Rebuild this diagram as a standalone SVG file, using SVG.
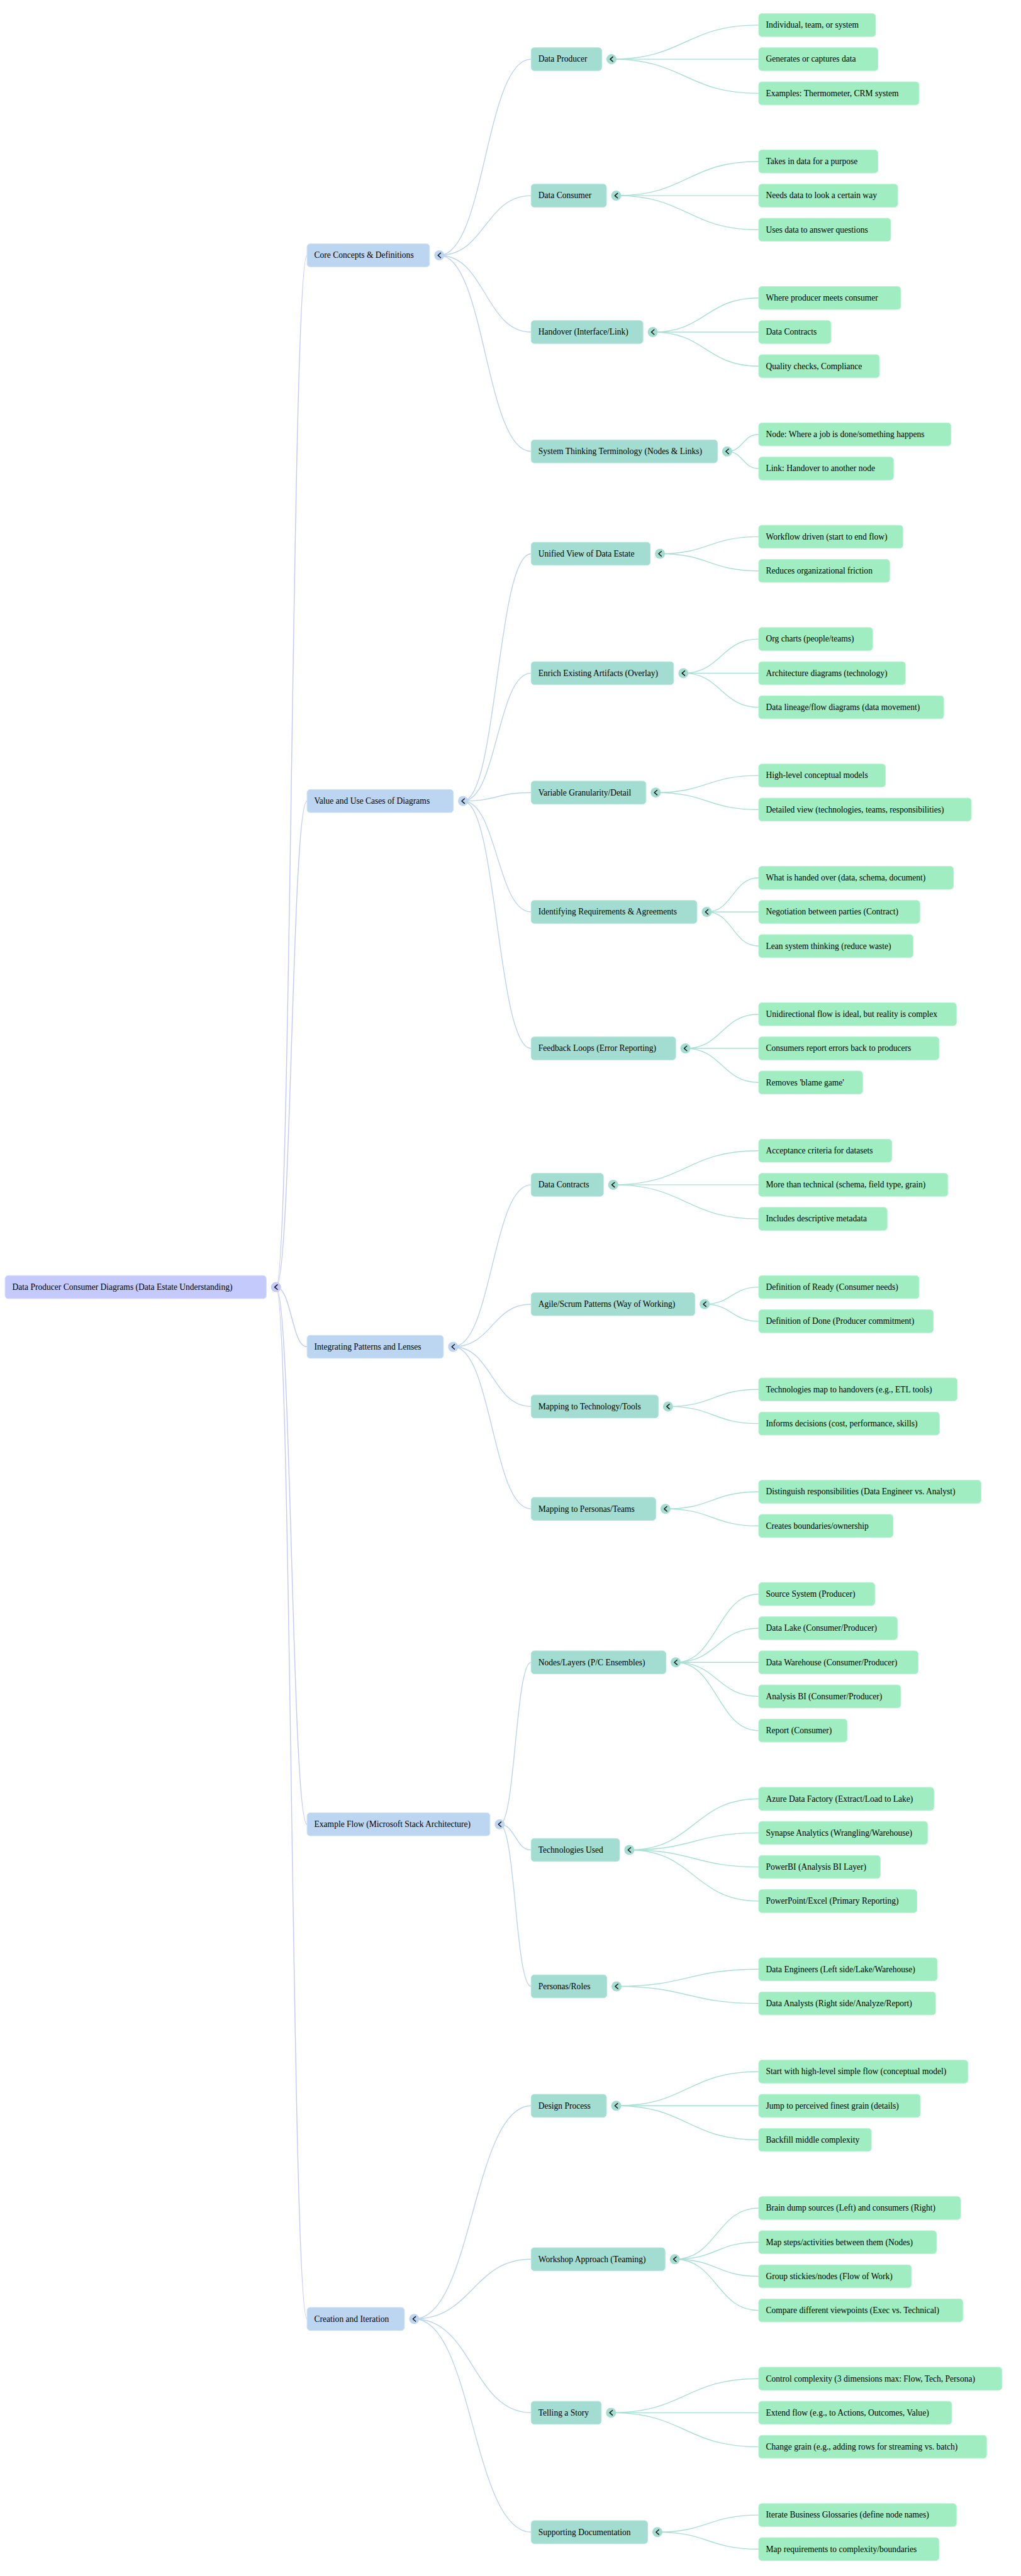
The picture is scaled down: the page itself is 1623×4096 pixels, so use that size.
<svg xmlns="http://www.w3.org/2000/svg" xmlns:xlink="http://www.w3.org/1999/xlink" width="1623" height="4096" viewBox="0 0 1623 4096">
<style>
.t{font-family:"Liberation Serif","Times New Roman",serif;font-size:13.52px;fill:#000}
.r0{fill:#C5CAFC;stroke:#D2D6FD;stroke-width:1}
.r1{fill:#BCD6F1;stroke:#CADFF4;stroke-width:1}
.r2{fill:#A3DDD1;stroke:#B4E4DA;stroke-width:1}
.r3{fill:#9FEDC1;stroke:#B4F2D0;stroke-width:1}
.k0{fill:#C5CAFC}.k1{fill:#BCD6F1}.k2{fill:#A3DDD1}
.e0,.e1,.e2{fill:none;stroke-width:1.4}
.e0{stroke:#C2C8FA}.e1{stroke:#B9D4F1}.e2{stroke:#A6E0D3}
</style>
<defs>
<path id="chev" d="M2.2,-3.7 L-2.1,0 L2.2,3.7" fill="none" stroke="#111" stroke-width="1.5" stroke-linecap="round" stroke-linejoin="round"/>
</defs>
<rect width="1623" height="4096" fill="#ffffff"/>
<g id="connectors">
<g class="e0">
<path d="M438.7,2046.6C463.4,2046.6 463.4,406 488.1,406"/>
<path d="M438.7,2046.6C463.4,2046.6 463.4,1273.7 488.1,1273.7"/>
<path d="M438.7,2046.6C463.4,2046.6 463.4,2141.5 488.1,2141.5"/>
<path d="M438.7,2046.6C463.4,2046.6 463.4,2900.8 488.1,2900.8"/>
<path d="M438.7,2046.6C463.4,2046.6 463.4,3687.3 488.1,3687.3"/>
</g>
<g class="e1">
<path d="M698.3,406C771.3,406 771.3,94.1 844.3,94.1"/>
<path d="M698.3,406C771.3,406 771.3,311.1 844.3,311.1"/>
<path d="M698.3,406C771.3,406 771.3,528 844.3,528"/>
<path d="M698.3,406C771.3,406 771.3,717.8 844.3,717.8"/>
<path d="M736.1,1273.7C790.2,1273.7 790.2,880.5 844.3,880.5"/>
<path d="M736.1,1273.7C790.2,1273.7 790.2,1070.4 844.3,1070.4"/>
<path d="M736.1,1273.7C790.2,1273.7 790.2,1260.2 844.3,1260.2"/>
<path d="M736.1,1273.7C790.2,1273.7 790.2,1450 844.3,1450"/>
<path d="M736.1,1273.7C790.2,1273.7 790.2,1667 844.3,1667"/>
<path d="M720.3,2141.5C782.3,2141.5 782.3,1883.9 844.3,1883.9"/>
<path d="M720.3,2141.5C782.3,2141.5 782.3,2073.7 844.3,2073.7"/>
<path d="M720.3,2141.5C782.3,2141.5 782.3,2236.4 844.3,2236.4"/>
<path d="M720.3,2141.5C782.3,2141.5 782.3,2399.2 844.3,2399.2"/>
<path d="M794.3,2900.8C819.3,2900.8 819.3,2643.2 844.3,2643.2"/>
<path d="M794.3,2900.8C819.3,2900.8 819.3,2941.5 844.3,2941.5"/>
<path d="M794.3,2900.8C819.3,2900.8 819.3,3158.5 844.3,3158.5"/>
<path d="M658.4,3687.3C751.4,3687.3 751.4,3348.3 844.3,3348.3"/>
<path d="M658.4,3687.3C751.4,3687.3 751.4,3592.3 844.3,3592.3"/>
<path d="M658.4,3687.3C751.4,3687.3 751.4,3836.4 844.3,3836.4"/>
<path d="M658.4,3687.3C751.4,3687.3 751.4,4026.2 844.3,4026.2"/>
</g>
<g class="e2">
<path d="M972,94.1C1089,94.1 1089,39.9 1206,39.9"/>
<path d="M972,94.1C1089,94.1 1089,94.1 1206,94.1"/>
<path d="M972,94.1C1089,94.1 1089,148.4 1206,148.4"/>
<path d="M979.5,311.1C1092.8,311.1 1092.8,256.8 1206,256.8"/>
<path d="M979.5,311.1C1092.8,311.1 1092.8,311.1 1206,311.1"/>
<path d="M979.5,311.1C1092.8,311.1 1092.8,365.3 1206,365.3"/>
<path d="M1037.6,528C1121.8,528 1121.8,473.8 1206,473.8"/>
<path d="M1037.6,528C1121.8,528 1121.8,528 1206,528"/>
<path d="M1037.6,528C1121.8,528 1121.8,582.2 1206,582.2"/>
<path d="M1155.9,717.8C1181,717.8 1181,690.7 1206,690.7"/>
<path d="M1155.9,717.8C1181,717.8 1181,745 1206,745"/>
<path d="M1049.1,880.5C1127.6,880.5 1127.6,853.4 1206,853.4"/>
<path d="M1049.1,880.5C1127.6,880.5 1127.6,907.7 1206,907.7"/>
<path d="M1086.3,1070.4C1146.2,1070.4 1146.2,1016.1 1206,1016.1"/>
<path d="M1086.3,1070.4C1146.2,1070.4 1146.2,1070.4 1206,1070.4"/>
<path d="M1086.3,1070.4C1146.2,1070.4 1146.2,1124.6 1206,1124.6"/>
<path d="M1042.3,1260.2C1124.2,1260.2 1124.2,1233.1 1206,1233.1"/>
<path d="M1042.3,1260.2C1124.2,1260.2 1124.2,1287.3 1206,1287.3"/>
<path d="M1123.4,1450C1164.7,1450 1164.7,1395.8 1206,1395.8"/>
<path d="M1123.4,1450C1164.7,1450 1164.7,1450 1206,1450"/>
<path d="M1123.4,1450C1164.7,1450 1164.7,1504.3 1206,1504.3"/>
<path d="M1089.6,1667C1147.8,1667 1147.8,1612.7 1206,1612.7"/>
<path d="M1089.6,1667C1147.8,1667 1147.8,1667 1206,1667"/>
<path d="M1089.6,1667C1147.8,1667 1147.8,1721.2 1206,1721.2"/>
<path d="M974.7,1883.9C1090.4,1883.9 1090.4,1829.7 1206,1829.7"/>
<path d="M974.7,1883.9C1090.4,1883.9 1090.4,1883.9 1206,1883.9"/>
<path d="M974.7,1883.9C1090.4,1883.9 1090.4,1938.1 1206,1938.1"/>
<path d="M1120.1,2073.7C1163.1,2073.7 1163.1,2046.6 1206,2046.6"/>
<path d="M1120.1,2073.7C1163.1,2073.7 1163.1,2100.9 1206,2100.9"/>
<path d="M1061.9,2236.4C1134,2236.4 1134,2209.3 1206,2209.3"/>
<path d="M1061.9,2236.4C1134,2236.4 1134,2263.6 1206,2263.6"/>
<path d="M1057.9,2399.2C1132,2399.2 1132,2372 1206,2372"/>
<path d="M1057.9,2399.2C1132,2399.2 1132,2426.3 1206,2426.3"/>
<path d="M1074.1,2643.2C1140.1,2643.2 1140.1,2534.7 1206,2534.7"/>
<path d="M1074.1,2643.2C1140.1,2643.2 1140.1,2589 1206,2589"/>
<path d="M1074.1,2643.2C1140.1,2643.2 1140.1,2643.2 1206,2643.2"/>
<path d="M1074.1,2643.2C1140.1,2643.2 1140.1,2697.4 1206,2697.4"/>
<path d="M1074.1,2643.2C1140.1,2643.2 1140.1,2751.7 1206,2751.7"/>
<path d="M1000.4,2941.5C1103.2,2941.5 1103.2,2860.2 1206,2860.2"/>
<path d="M1000.4,2941.5C1103.2,2941.5 1103.2,2914.4 1206,2914.4"/>
<path d="M1000.4,2941.5C1103.2,2941.5 1103.2,2968.6 1206,2968.6"/>
<path d="M1000.4,2941.5C1103.2,2941.5 1103.2,3022.9 1206,3022.9"/>
<path d="M980.1,3158.5C1093.1,3158.5 1093.1,3131.3 1206,3131.3"/>
<path d="M980.1,3158.5C1093.1,3158.5 1093.1,3185.6 1206,3185.6"/>
<path d="M979.5,3348.3C1092.8,3348.3 1092.8,3294 1206,3294"/>
<path d="M979.5,3348.3C1092.8,3348.3 1092.8,3348.3 1206,3348.3"/>
<path d="M979.5,3348.3C1092.8,3348.3 1092.8,3402.5 1206,3402.5"/>
<path d="M1072.7,3592.3C1139.4,3592.3 1139.4,3511 1206,3511"/>
<path d="M1072.7,3592.3C1139.4,3592.3 1139.4,3565.2 1206,3565.2"/>
<path d="M1072.7,3592.3C1139.4,3592.3 1139.4,3619.5 1206,3619.5"/>
<path d="M1072.7,3592.3C1139.4,3592.3 1139.4,3673.7 1206,3673.7"/>
<path d="M971.3,3836.4C1088.7,3836.4 1088.7,3782.2 1206,3782.2"/>
<path d="M971.3,3836.4C1088.7,3836.4 1088.7,3836.4 1206,3836.4"/>
<path d="M971.3,3836.4C1088.7,3836.4 1088.7,3890.6 1206,3890.6"/>
<path d="M1045,4026.2C1125.5,4026.2 1125.5,3999.1 1206,3999.1"/>
<path d="M1045,4026.2C1125.5,4026.2 1125.5,4053.3 1206,4053.3"/>
</g>
</g>

<g id="root" transform="translate(8.1,2046.6)"><rect class="r0" y="-18.25" width="415.1" height="36.5" rx="5"/><text class="t" x="11.5" y="4.3">Data Producer Consumer Diagrams (Data Estate Understanding)</text><circle class="k0" cx="430.6" r="8"/><use href="#chev" x="430.6" y="0"/></g>

<g id="l1-core" transform="translate(488.1,406)"><rect class="r1" y="-18.25" width="194.7" height="36.5" rx="5"/><text class="t" x="11.5" y="4.3">Core Concepts &amp; Definitions</text><circle class="k1" cx="210.2" r="8"/><use href="#chev" x="210.2" y="0"/></g>
<g id="l1-value" transform="translate(488.1,1273.7)"><rect class="r1" y="-18.25" width="232.5" height="36.5" rx="5"/><text class="t" x="11.5" y="4.3">Value and Use Cases of Diagrams</text><circle class="k1" cx="248" r="8"/><use href="#chev" x="248" y="0"/></g>
<g id="l1-integrating" transform="translate(488.1,2141.5)"><rect class="r1" y="-18.25" width="216.7" height="36.5" rx="5"/><text class="t" x="11.5" y="4.3">Integrating Patterns and Lenses</text><circle class="k1" cx="232.2" r="8"/><use href="#chev" x="232.2" y="0"/></g>
<g id="l1-example" transform="translate(488.1,2900.8)"><rect class="r1" y="-18.25" width="290.7" height="36.5" rx="5"/><text class="t" x="11.5" y="4.3">Example Flow (Microsoft Stack Architecture)</text><circle class="k1" cx="306.2" r="8"/><use href="#chev" x="306.2" y="0"/></g>
<g id="l1-creation" transform="translate(488.1,3687.3)"><rect class="r1" y="-18.25" width="154.8" height="36.5" rx="5"/><text class="t" x="11.5" y="4.3">Creation and Iteration</text><circle class="k1" cx="170.3" r="8"/><use href="#chev" x="170.3" y="0"/></g>

<g id="l2-producer" transform="translate(844.3,94.1)"><rect class="r2" y="-18.25" width="112.2" height="36.5" rx="5"/><text class="t" x="11.5" y="4.3">Data Producer</text><circle class="k2" cx="127.7" r="8"/><use href="#chev" x="127.7" y="0"/></g>
<g id="l2-consumer" transform="translate(844.3,311.1)"><rect class="r2" y="-18.25" width="119.7" height="36.5" rx="5"/><text class="t" x="11.5" y="4.3">Data Consumer</text><circle class="k2" cx="135.2" r="8"/><use href="#chev" x="135.2" y="0"/></g>
<g id="l2-handover" transform="translate(844.3,528)"><rect class="r2" y="-18.25" width="177.8" height="36.5" rx="5"/><text class="t" x="11.5" y="4.3">Handover (Interface/Link)</text><circle class="k2" cx="193.3" r="8"/><use href="#chev" x="193.3" y="0"/></g>
<g id="l2-systems" transform="translate(844.3,717.8)"><rect class="r2" y="-18.25" width="296.1" height="36.5" rx="5"/><text class="t" x="11.5" y="4.3">System Thinking Terminology (Nodes &amp; Links)</text><circle class="k2" cx="311.6" r="8"/><use href="#chev" x="311.6" y="0"/></g>
<g id="l2-unified" transform="translate(844.3,880.5)"><rect class="r2" y="-18.25" width="189.3" height="36.5" rx="5"/><text class="t" x="11.5" y="4.3">Unified View of Data Estate</text><circle class="k2" cx="204.8" r="8"/><use href="#chev" x="204.8" y="0"/></g>
<g id="l2-enrich" transform="translate(844.3,1070.4)"><rect class="r2" y="-18.25" width="226.5" height="36.5" rx="5"/><text class="t" x="11.5" y="4.3">Enrich Existing Artifacts (Overlay)</text><circle class="k2" cx="242" r="8"/><use href="#chev" x="242" y="0"/></g>
<g id="l2-variable" transform="translate(844.3,1260.2)"><rect class="r2" y="-18.25" width="182.5" height="36.5" rx="5"/><text class="t" x="11.5" y="4.3">Variable Granularity/Detail</text><circle class="k2" cx="198" r="8"/><use href="#chev" x="198" y="0"/></g>
<g id="l2-identifying" transform="translate(844.3,1450)"><rect class="r2" y="-18.25" width="263.6" height="36.5" rx="5"/><text class="t" x="11.5" y="4.3">Identifying Requirements &amp; Agreements</text><circle class="k2" cx="279.1" r="8"/><use href="#chev" x="279.1" y="0"/></g>
<g id="l2-feedback" transform="translate(844.3,1667)"><rect class="r2" y="-18.25" width="229.8" height="36.5" rx="5"/><text class="t" x="11.5" y="4.3">Feedback Loops (Error Reporting)</text><circle class="k2" cx="245.3" r="8"/><use href="#chev" x="245.3" y="0"/></g>
<g id="l2-contracts" transform="translate(844.3,1883.9)"><rect class="r2" y="-18.25" width="114.9" height="36.5" rx="5"/><text class="t" x="11.5" y="4.3">Data Contracts</text><circle class="k2" cx="130.4" r="8"/><use href="#chev" x="130.4" y="0"/></g>
<g id="l2-agile" transform="translate(844.3,2073.7)"><rect class="r2" y="-18.25" width="260.3" height="36.5" rx="5"/><text class="t" x="11.5" y="4.3">Agile/Scrum Patterns (Way of Working)</text><circle class="k2" cx="275.8" r="8"/><use href="#chev" x="275.8" y="0"/></g>
<g id="l2-maptech" transform="translate(844.3,2236.4)"><rect class="r2" y="-18.25" width="202.1" height="36.5" rx="5"/><text class="t" x="11.5" y="4.3">Mapping to Technology/Tools</text><circle class="k2" cx="217.6" r="8"/><use href="#chev" x="217.6" y="0"/></g>
<g id="l2-mappersonas" transform="translate(844.3,2399.2)"><rect class="r2" y="-18.25" width="198.1" height="36.5" rx="5"/><text class="t" x="11.5" y="4.3">Mapping to Personas/Teams</text><circle class="k2" cx="213.6" r="8"/><use href="#chev" x="213.6" y="0"/></g>
<g id="l2-layers" transform="translate(844.3,2643.2)"><rect class="r2" y="-18.25" width="214.3" height="36.5" rx="5"/><text class="t" x="11.5" y="4.3">Nodes/Layers (P/C Ensembles)</text><circle class="k2" cx="229.8" r="8"/><use href="#chev" x="229.8" y="0"/></g>
<g id="l2-techused" transform="translate(844.3,2941.5)"><rect class="r2" y="-18.25" width="140.6" height="36.5" rx="5"/><text class="t" x="11.5" y="4.3">Technologies Used</text><circle class="k2" cx="156.1" r="8"/><use href="#chev" x="156.1" y="0"/></g>
<g id="l2-roles" transform="translate(844.3,3158.5)"><rect class="r2" y="-18.25" width="120.3" height="36.5" rx="5"/><text class="t" x="11.5" y="4.3">Personas/Roles</text><circle class="k2" cx="135.8" r="8"/><use href="#chev" x="135.8" y="0"/></g>
<g id="l2-design" transform="translate(844.3,3348.3)"><rect class="r2" y="-18.25" width="119.7" height="36.5" rx="5"/><text class="t" x="11.5" y="4.3">Design Process</text><circle class="k2" cx="135.2" r="8"/><use href="#chev" x="135.2" y="0"/></g>
<g id="l2-workshop" transform="translate(844.3,3592.3)"><rect class="r2" y="-18.25" width="212.9" height="36.5" rx="5"/><text class="t" x="11.5" y="4.3">Workshop Approach (Teaming)</text><circle class="k2" cx="228.4" r="8"/><use href="#chev" x="228.4" y="0"/></g>
<g id="l2-story" transform="translate(844.3,3836.4)"><rect class="r2" y="-18.25" width="111.5" height="36.5" rx="5"/><text class="t" x="11.5" y="4.3">Telling a Story</text><circle class="k2" cx="127" r="8"/><use href="#chev" x="127" y="0"/></g>
<g id="l2-docs" transform="translate(844.3,4026.2)"><rect class="r2" y="-18.25" width="185.2" height="36.5" rx="5"/><text class="t" x="11.5" y="4.3">Supporting Documentation</text><circle class="k2" cx="200.7" r="8"/><use href="#chev" x="200.7" y="0"/></g>

<g id="leaf-01" transform="translate(1206,39.9)"><rect class="r3" y="-18.25" width="185.9" height="36.5" rx="5"/><text class="t" x="11.5" y="4.3">Individual, team, or system</text></g>
<g id="leaf-02" transform="translate(1206,94.1)"><rect class="r3" y="-18.25" width="189.6" height="36.5" rx="5"/><text class="t" x="11.5" y="4.3">Generates or captures data</text></g>
<g id="leaf-03" transform="translate(1206,148.4)"><rect class="r3" y="-18.25" width="254.9" height="36.5" rx="5"/><text class="t" x="11.5" y="4.3">Examples: Thermometer, CRM system</text></g>
<g id="leaf-04" transform="translate(1206,256.8)"><rect class="r3" y="-18.25" width="189.6" height="36.5" rx="5"/><text class="t" x="11.5" y="4.3">Takes in data for a purpose</text></g>
<g id="leaf-05" transform="translate(1206,311.1)"><rect class="r3" y="-18.25" width="221.1" height="36.5" rx="5"/><text class="t" x="11.5" y="4.3">Needs data to look a certain way</text></g>
<g id="leaf-06" transform="translate(1206,365.3)"><rect class="r3" y="-18.25" width="209.9" height="36.5" rx="5"/><text class="t" x="11.5" y="4.3">Uses data to answer questions</text></g>
<g id="leaf-07" transform="translate(1206,473.8)"><rect class="r3" y="-18.25" width="225.8" height="36.5" rx="5"/><text class="t" x="11.5" y="4.3">Where producer meets consumer</text></g>
<g id="leaf-08" transform="translate(1206,528)"><rect class="r3" y="-18.25" width="114.9" height="36.5" rx="5"/><text class="t" x="11.5" y="4.3">Data Contracts</text></g>
<g id="leaf-09" transform="translate(1206,582.2)"><rect class="r3" y="-18.25" width="192" height="36.5" rx="5"/><text class="t" x="11.5" y="4.3">Quality checks, Compliance</text></g>
<g id="leaf-10" transform="translate(1206,690.7)"><rect class="r3" y="-18.25" width="305.6" height="36.5" rx="5"/><text class="t" x="11.5" y="4.3">Node: Where a job is done/something happens</text></g>
<g id="leaf-11" transform="translate(1206,745)"><rect class="r3" y="-18.25" width="214.3" height="36.5" rx="5"/><text class="t" x="11.5" y="4.3">Link: Handover to another node</text></g>
<g id="leaf-12" transform="translate(1206,853.4)"><rect class="r3" y="-18.25" width="229.2" height="36.5" rx="5"/><text class="t" x="11.5" y="4.3">Workflow driven (start to end flow)</text></g>
<g id="leaf-13" transform="translate(1206,907.7)"><rect class="r3" y="-18.25" width="208.2" height="36.5" rx="5"/><text class="t" x="11.5" y="4.3">Reduces organizational friction</text></g>
<g id="leaf-14" transform="translate(1206,1016.1)"><rect class="r3" y="-18.25" width="181.2" height="36.5" rx="5"/><text class="t" x="11.5" y="4.3">Org charts (people/teams)</text></g>
<g id="leaf-15" transform="translate(1206,1070.4)"><rect class="r3" y="-18.25" width="233.2" height="36.5" rx="5"/><text class="t" x="11.5" y="4.3">Architecture diagrams (technology)</text></g>
<g id="leaf-16" transform="translate(1206,1124.6)"><rect class="r3" y="-18.25" width="294.1" height="36.5" rx="5"/><text class="t" x="11.5" y="4.3">Data lineage/flow diagrams (data movement)</text></g>
<g id="leaf-17" transform="translate(1206,1233.1)"><rect class="r3" y="-18.25" width="201.4" height="36.5" rx="5"/><text class="t" x="11.5" y="4.3">High-level conceptual models</text></g>
<g id="leaf-18" transform="translate(1206,1287.3)"><rect class="r3" y="-18.25" width="338" height="36.5" rx="5"/><text class="t" x="11.5" y="4.3">Detailed view (technologies, teams, responsibilities)</text></g>
<g id="leaf-19" transform="translate(1206,1395.8)"><rect class="r3" y="-18.25" width="309.6" height="36.5" rx="5"/><text class="t" x="11.5" y="4.3">What is handed over (data, schema, document)</text></g>
<g id="leaf-20" transform="translate(1206,1450)"><rect class="r3" y="-18.25" width="256.2" height="36.5" rx="5"/><text class="t" x="11.5" y="4.3">Negotiation between parties (Contract)</text></g>
<g id="leaf-21" transform="translate(1206,1504.3)"><rect class="r3" y="-18.25" width="245.4" height="36.5" rx="5"/><text class="t" x="11.5" y="4.3">Lean system thinking (reduce waste)</text></g>
<g id="leaf-22" transform="translate(1206,1612.7)"><rect class="r3" y="-18.25" width="314.3" height="36.5" rx="5"/><text class="t" x="11.5" y="4.3">Unidirectional flow is ideal, but reality is complex</text></g>
<g id="leaf-23" transform="translate(1206,1667)"><rect class="r3" y="-18.25" width="286.6" height="36.5" rx="5"/><text class="t" x="11.5" y="4.3">Consumers report errors back to producers</text></g>
<g id="leaf-24" transform="translate(1206,1721.2)"><rect class="r3" y="-18.25" width="165.3" height="36.5" rx="5"/><text class="t" x="11.5" y="4.3">Removes 'blame game'</text></g>
<g id="leaf-25" transform="translate(1206,1829.7)"><rect class="r3" y="-18.25" width="211.6" height="36.5" rx="5"/><text class="t" x="11.5" y="4.3">Acceptance criteria for datasets</text></g>
<g id="leaf-26" transform="translate(1206,1883.9)"><rect class="r3" y="-18.25" width="300.8" height="36.5" rx="5"/><text class="t" x="11.5" y="4.3">More than technical (schema, field type, grain)</text></g>
<g id="leaf-27" transform="translate(1206,1938.1)"><rect class="r3" y="-18.25" width="204.2" height="36.5" rx="5"/><text class="t" x="11.5" y="4.3">Includes descriptive metadata</text></g>
<g id="leaf-28" transform="translate(1206,2046.6)"><rect class="r3" y="-18.25" width="254.9" height="36.5" rx="5"/><text class="t" x="11.5" y="4.3">Definition of Ready (Consumer needs)</text></g>
<g id="leaf-29" transform="translate(1206,2100.9)"><rect class="r3" y="-18.25" width="277.5" height="36.5" rx="5"/><text class="t" x="11.5" y="4.3">Definition of Done (Producer commitment)</text></g>
<g id="leaf-30" transform="translate(1206,2209.3)"><rect class="r3" y="-18.25" width="315.7" height="36.5" rx="5"/><text class="t" x="11.5" y="4.3">Technologies map to handovers (e.g., ETL tools)</text></g>
<g id="leaf-31" transform="translate(1206,2263.6)"><rect class="r3" y="-18.25" width="287.3" height="36.5" rx="5"/><text class="t" x="11.5" y="4.3">Informs decisions (cost, performance, skills)</text></g>
<g id="leaf-32" transform="translate(1206,2372)"><rect class="r3" y="-18.25" width="353.5" height="36.5" rx="5"/><text class="t" x="11.5" y="4.3">Distinguish responsibilities (Data Engineer vs. Analyst)</text></g>
<g id="leaf-33" transform="translate(1206,2426.3)"><rect class="r3" y="-18.25" width="213.6" height="36.5" rx="5"/><text class="t" x="11.5" y="4.3">Creates boundaries/ownership</text></g>
<g id="leaf-34" transform="translate(1206,2534.7)"><rect class="r3" y="-18.25" width="184.5" height="36.5" rx="5"/><text class="t" x="11.5" y="4.3">Source System (Producer)</text></g>
<g id="leaf-35" transform="translate(1206,2589)"><rect class="r3" y="-18.25" width="220.4" height="36.5" rx="5"/><text class="t" x="11.5" y="4.3">Data Lake (Consumer/Producer)</text></g>
<g id="leaf-36" transform="translate(1206,2643.2)"><rect class="r3" y="-18.25" width="253.5" height="36.5" rx="5"/><text class="t" x="11.5" y="4.3">Data Warehouse (Consumer/Producer)</text></g>
<g id="leaf-37" transform="translate(1206,2697.4)"><rect class="r3" y="-18.25" width="225.8" height="36.5" rx="5"/><text class="t" x="11.5" y="4.3">Analysis BI (Consumer/Producer)</text></g>
<g id="leaf-38" transform="translate(1206,2751.7)"><rect class="r3" y="-18.25" width="140.6" height="36.5" rx="5"/><text class="t" x="11.5" y="4.3">Report (Consumer)</text></g>
<g id="leaf-39" transform="translate(1206,2860.2)"><rect class="r3" y="-18.25" width="278.5" height="36.5" rx="5"/><text class="t" x="11.5" y="4.3">Azure Data Factory (Extract/Load to Lake)</text></g>
<g id="leaf-40" transform="translate(1206,2914.4)"><rect class="r3" y="-18.25" width="268.4" height="36.5" rx="5"/><text class="t" x="11.5" y="4.3">Synapse Analytics (Wrangling/Warehouse)</text></g>
<g id="leaf-41" transform="translate(1206,2968.6)"><rect class="r3" y="-18.25" width="193.3" height="36.5" rx="5"/><text class="t" x="11.5" y="4.3">PowerBI (Analysis BI Layer)</text></g>
<g id="leaf-42" transform="translate(1206,3022.9)"><rect class="r3" y="-18.25" width="251.5" height="36.5" rx="5"/><text class="t" x="11.5" y="4.3">PowerPoint/Excel (Primary Reporting)</text></g>
<g id="leaf-43" transform="translate(1206,3131.3)"><rect class="r3" y="-18.25" width="283.9" height="36.5" rx="5"/><text class="t" x="11.5" y="4.3">Data Engineers (Left side/Lake/Warehouse)</text></g>
<g id="leaf-44" transform="translate(1206,3185.6)"><rect class="r3" y="-18.25" width="281.2" height="36.5" rx="5"/><text class="t" x="11.5" y="4.3">Data Analysts (Right side/Analyze/Report)</text></g>
<g id="leaf-45" transform="translate(1206,3294)"><rect class="r3" y="-18.25" width="332.6" height="36.5" rx="5"/><text class="t" x="11.5" y="4.3">Start with high-level simple flow (conceptual model)</text></g>
<g id="leaf-46" transform="translate(1206,3348.3)"><rect class="r3" y="-18.25" width="256.9" height="36.5" rx="5"/><text class="t" x="11.5" y="4.3">Jump to perceived finest grain (details)</text></g>
<g id="leaf-47" transform="translate(1206,3402.5)"><rect class="r3" y="-18.25" width="179.1" height="36.5" rx="5"/><text class="t" x="11.5" y="4.3">Backfill middle complexity</text></g>
<g id="leaf-48" transform="translate(1206,3511)"><rect class="r3" y="-18.25" width="321.1" height="36.5" rx="5"/><text class="t" x="11.5" y="4.3">Brain dump sources (Left) and consumers (Right)</text></g>
<g id="leaf-49" transform="translate(1206,3565.2)"><rect class="r3" y="-18.25" width="282.6" height="36.5" rx="5"/><text class="t" x="11.5" y="4.3">Map steps/activities between them (Nodes)</text></g>
<g id="leaf-50" transform="translate(1206,3619.5)"><rect class="r3" y="-18.25" width="242.7" height="36.5" rx="5"/><text class="t" x="11.5" y="4.3">Group stickies/nodes (Flow of Work)</text></g>
<g id="leaf-51" transform="translate(1206,3673.7)"><rect class="r3" y="-18.25" width="324.5" height="36.5" rx="5"/><text class="t" x="11.5" y="4.3">Compare different viewpoints (Exec vs. Technical)</text></g>
<g id="leaf-52" transform="translate(1206,3782.2)"><rect class="r3" y="-18.25" width="386.7" height="36.5" rx="5"/><text class="t" x="11.5" y="4.3">Control complexity (3 dimensions max: Flow, Tech, Persona)</text></g>
<g id="leaf-53" transform="translate(1206,3836.4)"><rect class="r3" y="-18.25" width="306.9" height="36.5" rx="5"/><text class="t" x="11.5" y="4.3">Extend flow (e.g., to Actions, Outcomes, Value)</text></g>
<g id="leaf-54" transform="translate(1206,3890.6)"><rect class="r3" y="-18.25" width="362.3" height="36.5" rx="5"/><text class="t" x="11.5" y="4.3">Change grain (e.g., adding rows for streaming vs. batch)</text></g>
<g id="leaf-55" transform="translate(1206,3999.1)"><rect class="r3" y="-18.25" width="314.3" height="36.5" rx="5"/><text class="t" x="11.5" y="4.3">Iterate Business Glossaries (define node names)</text></g>
<g id="leaf-56" transform="translate(1206,4053.3)"><rect class="r3" y="-18.25" width="286.6" height="36.5" rx="5"/><text class="t" x="11.5" y="4.3">Map requirements to complexity/boundaries</text></g>
</svg>
